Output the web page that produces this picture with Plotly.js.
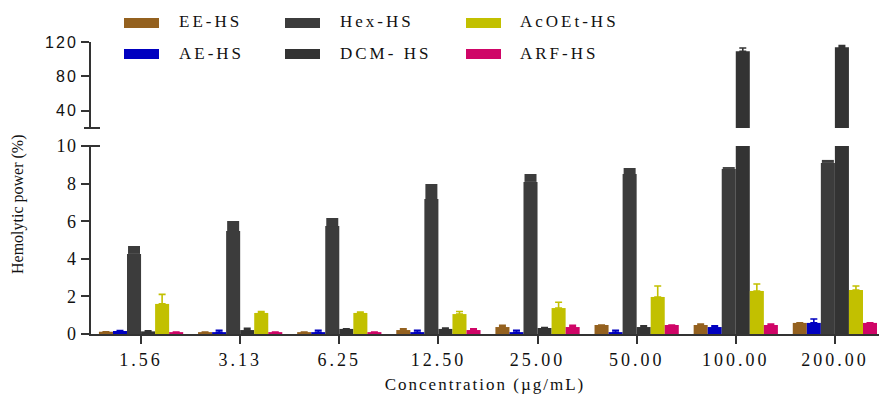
<!DOCTYPE html>
<html>
<head>
<meta charset="utf-8">
<script src="https://cdn.plot.ly/plotly-3.0.1.min.js"></script>
<style>
  html, body { margin: 0; padding: 0; background: #fff; }
  #chart { width: 879px; height: 399px; }
  .xtick text { letter-spacing: 3px; }
  .ytick text { letter-spacing: 1.5px; }
  .y2tick text { letter-spacing: 2px; }
  .xtitle { letter-spacing: 2px; }
</style>
</head>
<body>
<div id="chart"></div>
<script>
// ---- data ----
const categories = ['1.56', '3.13', '6.25', '12.50', '25.00', '50.00', '100.00', '200.00'];
const seriesNames = ['EE-HS', 'AE-HS', 'Hex-HS', 'DCM- HS', 'AcOEt-HS', 'ARF-HS'];

const EE_HS    = [0.12, 0.10, 0.10, 0.21, 0.37, 0.48, 0.48, 0.59];
const EE_err   = [0.00, 0.00, 0.00, 0.06, 0.09, 0.00, 0.05, 0.00];
const AE_HS    = [0.16, 0.10, 0.10, 0.10, 0.10, 0.10, 0.37, 0.59];
const AE_err   = [0.03, 0.10, 0.10, 0.10, 0.10, 0.10, 0.06, 0.21];
const Hex_HS   = [4.26, 5.48, 5.74, 7.18, 8.09, 8.51, 8.78, 9.10];
const Hex_err  = [0.42, 0.53, 0.43, 0.80, 0.42, 0.32, 0.10, 0.16];
const DCM_HS   = [0.14, 0.21, 0.27, 0.27, 0.32, 0.37, 109.2, 113.8];
const DCM_err  = [0.03, 0.09, 0.00, 0.05, 0.02, 0.06, 3.8, 2.0];
const AcOEt_HS = [1.60, 1.12, 1.12, 1.06, 1.38, 1.97, 2.29, 2.34];
const AcOEt_err= [0.51, 0.08, 0.05, 0.14, 0.31, 0.58, 0.37, 0.21];
const ARF_HS   = [0.10, 0.10, 0.10, 0.21, 0.37, 0.48, 0.48, 0.59];
const ARF_err  = [0.00, 0.00, 0.00, 0.06, 0.09, 0.00, 0.05, 0.00];

const lowerTicks = [0, 2, 4, 6, 8, 10];
const upperTicks = [40, 80, 120];

// ---- styles ----
const SERIF = '"Liberation Serif", "Times New Roman", Times, "DejaVu Serif", serif';
const SANS = '"Liberation Sans", Arial, sans-serif';
const colors = ['#94611f', '#0000c0', '#3c3c3c', '#333333', '#c2c000', '#cf0567'];
const allValues = [EE_HS, AE_HS, Hex_HS, DCM_HS, AcOEt_HS, ARF_HS];
const allErrors = [EE_err, AE_err, Hex_err, DCM_err, AcOEt_err, ARF_err];

const W = 879, H = 399;
const L = 91, R = 0, T = 42, B = 65;
const pw = W - L - R, ph = H - T - B;
const px2x = p => (p - L) / pw;
const py2y = p => (H - B - p) / ph;

const lowerTopPx = 146, upperBottomPx = 128;

const traces = [];
['y', 'y2'].forEach(ya => {
  seriesNames.forEach((name, i) => {
    const isHex = (i === 2);
    traces.push({
      type: 'bar',
      name: name,
      x: categories,
      y: allValues[i],
      xaxis: 'x',
      yaxis: ya,
      showlegend: false,
      marker: { color: colors[i], line: { width: 0 } },
      error_y: {
        type: 'data',
        symmetric: false,
        array: allErrors[i],
        arrayminus: allValues[i].map(() => 0),
        color: colors[i],
        thickness: isHex ? 12 : 1.6,
        width: isHex ? 0 : 3.5,
        visible: true
      },
      hoverinfo: 'x+y+name'
    });
  });
});

// legend drawn with shapes + annotations
const swatchX = [124, 285, 466];
const textX = [177, 338, 518];
const rowY = [23, 54];
const shapes = [];
const annotations = [];
seriesNames.forEach((name, i) => {
  const c = Math.floor(i / 2), r = i % 2;
  shapes.push({
    type: 'rect', xref: 'paper', yref: 'paper',
    x0: px2x(swatchX[c]), x1: px2x(swatchX[c] + 35),
    y0: py2y(rowY[r] + 5), y1: py2y(rowY[r] - 5),
    fillcolor: colors[i], line: { width: 0 }
  });
  annotations.push({
    xref: 'paper', yref: 'paper',
    x: px2x(textX[c]), y: py2y(rowY[r] - 1),
    xanchor: 'left', yanchor: 'middle',
    text: '<span style="letter-spacing:3px">' + name + '</span>',
    showarrow: false,
    font: { family: SERIF, size: 17, color: '#111' }
  });
});

// axis-break caps
shapes.push({
  type: 'line', xref: 'paper', yref: 'paper',
  x0: px2x(84), x1: px2x(100), y0: py2y(lowerTopPx), y1: py2y(lowerTopPx),
  line: { color: '#333', width: 2 }
});
shapes.push({
  type: 'line', xref: 'paper', yref: 'paper',
  x0: px2x(84), x1: px2x(100), y0: py2y(upperBottomPx), y1: py2y(upperBottomPx),
  line: { color: '#333', width: 2 }
});

// y title
annotations.push({
  xref: 'paper', yref: 'paper',
  x: px2x(18), y: py2y(204),
  xanchor: 'center', yanchor: 'middle',
  textangle: -90,
  text: 'Hemolytic power (%)',
  showarrow: false,
  font: { family: SERIF, size: 16, color: '#111' }
});

const layout = {
  width: W, height: H,
  margin: { l: L, r: R, t: T, b: B, pad: 0 },
  paper_bgcolor: '#fff', plot_bgcolor: '#fff',
  barmode: 'group', bargap: 0.15, bargroupgap: 0,
  showlegend: false,
  font: { family: SERIF, color: '#111' },
  xaxis: {
    type: 'category',
    range: [-0.505, 7.445],
    anchor: 'y',
    showline: true, linecolor: '#333', linewidth: 2,
    ticks: 'outside', ticklen: 8, tickwidth: 2, tickcolor: '#333',
    showgrid: false, zeroline: false,
    tickfont: { family: SERIF, size: 18, color: '#111' },
    title: {
      text: 'Concentration (µg/mL)',
      font: { family: SERIF, size: 17, color: '#111' },
      standoff: 10
    }
  },
  yaxis: {
    domain: [0, py2y(lowerTopPx)],
    range: [0, 10],
    anchor: 'x',
    tickmode: 'array', tickvals: lowerTicks, ticktext: lowerTicks.map(String),
    showline: true, linecolor: '#333', linewidth: 2,
    ticks: 'outside', ticklen: 8, tickwidth: 2, tickcolor: '#333',
    showgrid: false, zeroline: false,
    tickfont: { family: SERIF, size: 18, color: '#111' }
  },
  yaxis2: {
    domain: [py2y(upperBottomPx), 1],
    range: [20, 120],
    anchor: 'x',
    tickmode: 'array', tickvals: upperTicks, ticktext: upperTicks.map(String),
    showline: true, linecolor: '#333', linewidth: 2,
    ticks: 'outside', ticklen: 8, tickwidth: 2, tickcolor: '#333',
    showgrid: false, zeroline: false,
    tickfont: { family: SANS, size: 16, color: '#111' }
  },
  shapes: shapes,
  annotations: annotations
};

Plotly.newPlot('chart', traces, layout, { displayModeBar: false, staticPlot: true });
</script>
</body>
</html>
